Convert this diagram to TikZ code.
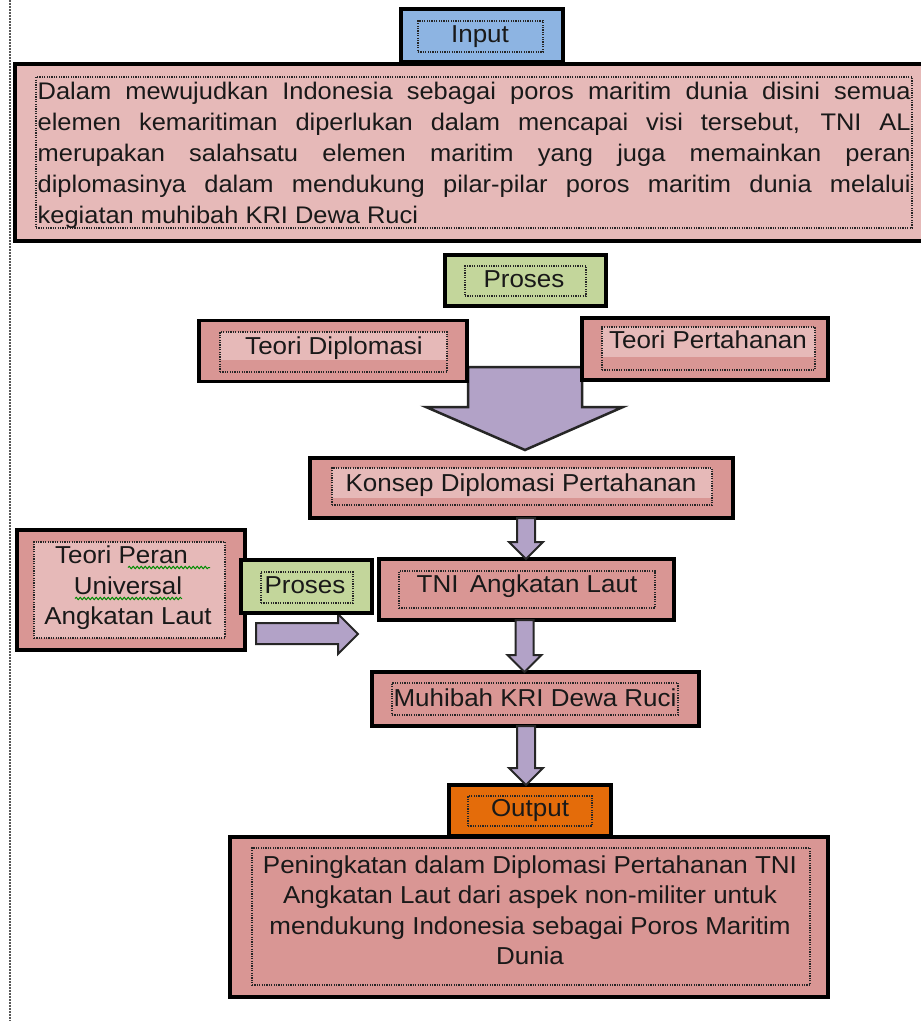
\documentclass[tikz,border=0pt]{standalone}
\usepackage{fontspec}
\setmainfont{Liberation Sans}[FakeStretch=1.06]
\usetikzlibrary{calc,decorations.pathmorphing}
\definecolor{inblue}{HTML}{8DB4E2}
\definecolor{pinkL}{HTML}{E6B9B8}
\definecolor{pinkD}{HTML}{D99694}
\definecolor{procgreen}{HTML}{C3D69B}
\definecolor{outorange}{HTML}{E46C0A}
\definecolor{arrowpurple}{HTML}{B2A2C7}
\newcommand\blockdown[3]{%
  \draw[blk] let \p1=(#2.south), \p2=(#3.north) in
    ({#1pt-9pt},{\y1}) -- ({#1pt+9pt},{\y1}) -- ({#1pt+9pt},{\y2+17pt}) --
    ({#1pt+17pt},{\y2+17pt}) -- ({#1pt},{\y2}) -- ({#1pt-17pt},{\y2+17pt}) --
    ({#1pt-9pt},{\y2+17pt}) -- cycle;}
\begin{document}
\begin{tikzpicture}[x=1pt,y=-1pt,
  outerbox/.style={draw=black, line width=3.5pt, inner sep=0pt, outer sep=0pt},
  innerbox/.style={draw=black!85, line width=1.2pt, dash pattern=on 1.2pt off 1.2pt, inner sep=0pt},
  lbl/.style={font=\fontsize{24.5}{30}\selectfont, text=black!90, inner sep=0pt, anchor=base},
  bodytxt/.style={font=\fontsize{24}{31}\selectfont, text=black!90, inner sep=0pt, anchor=base west},
  blk/.style={fill=arrowpurple, draw=black!85, line width=2pt, line join=miter},
  squiggle/.style={draw=green!55!black, line width=1pt, decorate, decoration={snake, segment length=4pt, amplitude=1.2pt}}]
\path[use as bounding box, clip] (0,0) rectangle (921,1021);
\fill[white] (0,0) rectangle (921,1021);

% left dotted margin line
\draw[black!65, line width=1.5pt, dash pattern=on 1.5pt off 1.5pt] (10,0) -- (10,1021);

% input body box
\node[outerbox, fill=pinkL, minimum width=920pt, minimum height=177pt] (body) at (475,152.5) {};
\node[innerbox, minimum width=876pt, minimum height=151pt] (bodyin) at (474,152.5) {};
\node[bodytxt] (l1) at (37.5,99.5) {\makebox[873pt][s]{Dalam mewujudkan Indonesia sebagai poros maritim dunia disini semua}};
\node[bodytxt] (l2) at (37.5,130.4) {\makebox[873pt][s]{elemen kemaritiman diperlukan dalam mencapai visi tersebut, TNI AL}};
\node[bodytxt] (l3) at (37.5,161.3) {\makebox[873pt][s]{merupakan salahsatu elemen maritim yang juga memainkan peran}};
\node[bodytxt] (l4) at (37.5,192.2) {\makebox[873pt][s]{diplomasinya dalam mendukung pilar-pilar poros maritim dunia melalui}};
\node[bodytxt] (l5) at (37.5,223) {kegiatan muhibah KRI Dewa Ruci};

% Input header
\node[outerbox, fill=inblue, minimum width=162pt, minimum height=53pt] (input) at (482,35.5) {};
\node[innerbox, minimum width=125pt, minimum height=31pt] (inputin) at (480.5,36.5) {};
\node[lbl] (inputtxt) at (480,42) {Input};

% big arrow
\draw[blk, line width=2.5pt] (468,367) -- (582,367) -- (582,407) -- (623,407) -- (525,450) -- (426,407) -- (468,407) -- cycle;

% Proses (top)
\node[outerbox, fill=procgreen, minimum width=161pt, minimum height=51pt] (proses1) at (525.5,280.5) {};
\node[innerbox, minimum width=121pt, minimum height=30pt] (proses1in) at (525.5,281) {};
\node[lbl] (proses1txt) at (524,287) {Proses};

% Teori Diplomasi
\node[outerbox, fill=pinkD, minimum width=268pt, minimum height=61pt] (tdip) at (333,351) {};
\fill[pinkL] (220,332) rectangle (447,360);
\node[innerbox, minimum width=227pt, minimum height=40pt] (tdipin) at (333.5,352) {};
\node[lbl] (tdiptxt) at (334,354) {Teori Diplomasi};

% Teori Pertahanan
\node[outerbox, fill=pinkD, minimum width=246pt, minimum height=62pt] (tper) at (705,349) {};
\fill[pinkL] (602,327) rectangle (815,357);
\node[innerbox, minimum width=213pt, minimum height=43pt] (tperin) at (708.5,348.5) {};
\node[lbl] (tpertxt) at (708,348) {Teori Pertahanan};

% Konsep Diplomasi Pertahanan
\node[outerbox, fill=pinkD, minimum width=423pt, minimum height=60pt] (konsep) at (521.5,488) {};
\fill[pinkL] (332,468) rectangle (712,498);
\node[innerbox, minimum width=380pt, minimum height=37pt] (konsepin) at (522,486.5) {};
\node[lbl] (konseptxt) at (521,491) {Konsep Diplomasi Pertahanan};

% TNI Angkatan Laut
\node[outerbox, fill=pinkD, minimum width=295pt, minimum height=61pt] (tni) at (526.5,589.5) {};
\node[innerbox, minimum width=256pt, minimum height=37pt] (tniin) at (527,589.5) {};
\node[lbl] (tnitxt) at (527,592) {TNI\, Angkatan Laut};

% Muhibah KRI Dewa Ruci
\node[outerbox, fill=pinkD, minimum width=327pt, minimum height=54pt] (muhibah) at (535.5,699) {};
\node[innerbox, minimum width=286pt, minimum height=32pt] (muhibahin) at (535,699) {};
\node[lbl] (muhibahtxt) at (535,706) {Muhibah KRI Dewa Ruci};

% Output header
\node[outerbox, fill=outorange, minimum width=162pt, minimum height=51pt] (output) at (530,810.5) {};
\node[innerbox, minimum width=124pt, minimum height=30pt] (outputin) at (530,811) {};
\node[lbl] (outputtxt) at (530,816) {Output};

% Output body
\node[outerbox, fill=pinkD, minimum width=598pt, minimum height=160pt] (result) at (529,917) {};
\node[innerbox, minimum width=558pt, minimum height=137pt] (resultin) at (531,916.5) {};
\node[lbl] (r1) at (530,873) {Peningkatan dalam Diplomasi Pertahanan TNI};
\node[lbl] (r2) at (530,903.5) {Angkatan Laut dari aspek non-militer untuk};
\node[lbl] (r3) at (530,934) {mendukung Indonesia sebagai Poros Maritim};
\node[lbl] (r4) at (530,964.5) {Dunia};

% Teori Peran Universal Angkatan Laut
\node[outerbox, fill=pinkD, minimum width=228pt, minimum height=120pt] (tpu) at (131,590) {};
\node[innerbox, fill=pinkL, minimum width=191pt, minimum height=96pt] (tpuin) at (129.5,590) {};
\node[lbl] (tpu1) at (128,563) {Teori Peran\phantom{x}};
\node[lbl] (tpu2) at (128,594) {Universal};
\node[lbl] (tpu3) at (128,624) {Angkatan Laut};
\draw[squiggle] (128,567.5) -- (210,567.5);
\draw[squiggle] (75,598.5) -- (182,598.5);

% side arrow
\draw[blk] (256,623) -- (338,623) -- (338,614) -- (358,634) -- (338,654) -- (338,644) -- (256,644) -- cycle;

% Proses (left)
\node[outerbox, fill=procgreen, minimum width=131pt, minimum height=53pt] (proses2) at (306.5,586.5) {};
\node[innerbox, minimum width=92pt, minimum height=31pt] (proses2in) at (307,587.5) {};
\node[lbl] (proses2txt) at (305,593) {Proses};

% small block arrows
\blockdown{526}{konsep}{tni}
\blockdown{524.5}{tni}{muhibah}
\blockdown{526}{muhibah}{output}
\end{tikzpicture}
\end{document}
